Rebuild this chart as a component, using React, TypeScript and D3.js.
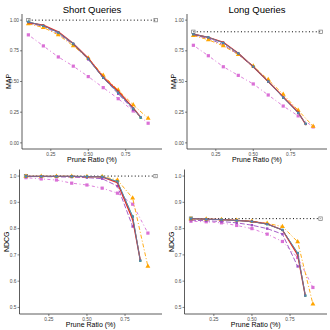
import * as d3 from "d3";

// prune ratios used by each method
const PRUNE_MAIN = [0.1, 0.2, 0.3, 0.4, 0.5, 0.6, 0.7, 0.8, 0.85];
const PRUNE_FULL = [0.1, 0.2, 0.3, 0.4, 0.5, 0.6, 0.7, 0.8, 0.9];
const PRUNE_PURPLE = [0.1, 0.2, 0.3, 0.4, 0.5, 0.6, 0.7, 0.8];
const PRUNE_BASE = [0.1, 0.95];

// MAP, short queries
const mapShortRed = [0.98, 0.96, 0.905, 0.81, 0.69, 0.535, 0.42, 0.285, 0.21];
const mapShortBlue = [0.985, 0.955, 0.9, 0.81, 0.685, 0.53, 0.41, 0.28, 0.21];
const mapShortGreen = [0.985, 0.955, 0.9, 0.805, 0.685, 0.53, 0.41, 0.28, 0.205];
const mapShortOrange = [0.97, 0.94, 0.88, 0.79, 0.69, 0.55, 0.43, 0.31, 0.2];
const mapShortPurple = [0.975, 0.95, 0.89, 0.8, 0.68, 0.53, 0.4, 0.27];
const mapShortOrchid = [0.88, 0.79, 0.7, 0.625, 0.54, 0.45, 0.36, 0.26, 0.16];
const mapShortBase = [1.0, 1.0];

// MAP, long queries
const mapLongRed = [0.885, 0.86, 0.82, 0.73, 0.62, 0.5, 0.375, 0.25, 0.15];
const mapLongBlue = [0.885, 0.86, 0.815, 0.73, 0.62, 0.5, 0.37, 0.245, 0.155];
const mapLongGreen = [0.885, 0.86, 0.815, 0.73, 0.62, 0.5, 0.37, 0.245, 0.155];
const mapLongOrange = [0.875, 0.84, 0.79, 0.72, 0.625, 0.515, 0.395, 0.265, 0.135];
const mapLongPurple = [0.88, 0.85, 0.8, 0.72, 0.62, 0.5, 0.37, 0.25];
const mapLongOrchid = [0.795, 0.71, 0.62, 0.55, 0.48, 0.39, 0.3, 0.22, 0.13];
const mapLongBase = [0.905, 0.905];

// NDCG, short queries
const ndcgShortRed = [0.999, 0.999, 0.999, 0.999, 0.998, 0.997, 0.975, 0.835, 0.68];
const ndcgShortBlue = [0.999, 0.999, 0.999, 0.999, 0.998, 0.997, 0.979, 0.846, 0.678];
const ndcgShortGreen = [0.999, 0.999, 0.999, 0.999, 0.998, 0.997, 0.979, 0.846, 0.678];
const ndcgShortOrange = [0.999, 0.999, 0.999, 0.999, 0.998, 0.998, 0.985, 0.916, 0.656];
const ndcgShortPurple = [0.998, 0.998, 0.997, 0.996, 0.994, 0.99, 0.962, 0.808];
const ndcgShortOrchid = [0.994, 0.989, 0.985, 0.973, 0.966, 0.954, 0.935, 0.893, 0.783];
const ndcgShortBase = [1.0, 1.0];

// NDCG, long queries
const ndcgLongRed = [0.838, 0.836, 0.834, 0.831, 0.827, 0.818, 0.795, 0.7, 0.545];
const ndcgLongBlue = [0.838, 0.836, 0.834, 0.831, 0.827, 0.817, 0.795, 0.707, 0.545];
const ndcgLongGreen = [0.838, 0.836, 0.834, 0.831, 0.827, 0.817, 0.795, 0.707, 0.545];
const ndcgLongOrange = [0.837, 0.836, 0.834, 0.832, 0.828, 0.82, 0.808, 0.75, 0.513];
const ndcgLongPurple = [0.832, 0.83, 0.827, 0.822, 0.813, 0.8, 0.779, 0.656];
const ndcgLongOrchid = [0.828, 0.826, 0.822, 0.812, 0.8, 0.779, 0.751, 0.69, 0.576];
const ndcgLongBase = [0.838, 0.838];

const X_TICKS = [0.25, 0.5, 0.75];
const MAP_TICKS = [0, 0.25, 0.5, 0.75, 1.0];
const NDCG_TICKS = [0.5, 0.6, 0.7, 0.8, 0.9, 1.0];

const FONT = "Liberation Sans, Arial, sans-serif";

type Style = { color: string; dash: string; shape: string; width: number; size: number };

const STYLES: Record<string, Style> = {
  base: { color: "#000", dash: "1,2.4", shape: "openSquare", width: 1, size: 3.4 },
  orchid: { color: "#DA70D6", dash: "1,2.5,3,2.5", shape: "square", width: 0.9, size: 3.2 },
  purple: { color: "#9B4DC0", dash: "5,2", shape: "square", width: 0.9, size: 2.4 },
  orange: { color: "#FFA500", dash: "4,2,1,2", shape: "triangle", width: 0.9, size: 3.4 },
  green: { color: "#2E9E6E", dash: "", shape: "square", width: 0.8, size: 2.4 },
  red: { color: "#E8281E", dash: "", shape: "circle", width: 1.3, size: 1.8 },
  blue: { color: "#4A86BA", dash: "", shape: "square", width: 0.8, size: 2 },
};

type SeriesData = { key: string; xs: number[]; ys: number[] };

const panels = [
  {
    title: "Short Queries", yLabel: "MAP", yDomain: [-0.05, 1.05], yTicks: MAP_TICKS, fmt: ".2f",
    left: 22, right: 162, top: 14, bottom: 149,
    series: [
      { key: "base", xs: PRUNE_BASE, ys: mapShortBase },
      { key: "orchid", xs: PRUNE_FULL, ys: mapShortOrchid },
      { key: "purple", xs: PRUNE_PURPLE, ys: mapShortPurple },
      { key: "orange", xs: PRUNE_FULL, ys: mapShortOrange },
      { key: "green", xs: PRUNE_MAIN, ys: mapShortGreen },
      { key: "red", xs: PRUNE_MAIN, ys: mapShortRed },
      { key: "blue", xs: PRUNE_MAIN, ys: mapShortBlue },
    ],
  },
  {
    title: "Long Queries", yLabel: "MAP", yDomain: [-0.05, 1.05], yTicks: MAP_TICKS, fmt: ".2f",
    left: 187, right: 327, top: 14, bottom: 149,
    series: [
      { key: "base", xs: PRUNE_BASE, ys: mapLongBase },
      { key: "orchid", xs: PRUNE_FULL, ys: mapLongOrchid },
      { key: "purple", xs: PRUNE_PURPLE, ys: mapLongPurple },
      { key: "orange", xs: PRUNE_FULL, ys: mapLongOrange },
      { key: "green", xs: PRUNE_MAIN, ys: mapLongGreen },
      { key: "red", xs: PRUNE_MAIN, ys: mapLongRed },
      { key: "blue", xs: PRUNE_MAIN, ys: mapLongBlue },
    ],
  },
  {
    title: "", yLabel: "NDCG", yDomain: [0.475, 1.025], yTicks: NDCG_TICKS, fmt: ".1f",
    left: 19.5, right: 162, top: 169.5, bottom: 314,
    series: [
      { key: "base", xs: PRUNE_BASE, ys: ndcgShortBase },
      { key: "orchid", xs: PRUNE_FULL, ys: ndcgShortOrchid },
      { key: "purple", xs: PRUNE_PURPLE, ys: ndcgShortPurple },
      { key: "orange", xs: PRUNE_FULL, ys: ndcgShortOrange },
      { key: "green", xs: PRUNE_MAIN, ys: ndcgShortGreen },
      { key: "red", xs: PRUNE_MAIN, ys: ndcgShortRed },
      { key: "blue", xs: PRUNE_MAIN, ys: ndcgShortBlue },
    ],
  },
  {
    title: "", yLabel: "NDCG", yDomain: [0.475, 1.025], yTicks: NDCG_TICKS, fmt: ".1f",
    left: 184.5, right: 327, top: 169.5, bottom: 314,
    series: [
      { key: "base", xs: PRUNE_BASE, ys: ndcgLongBase },
      { key: "orchid", xs: PRUNE_FULL, ys: ndcgLongOrchid },
      { key: "purple", xs: PRUNE_PURPLE, ys: ndcgLongPurple },
      { key: "orange", xs: PRUNE_FULL, ys: ndcgLongOrange },
      { key: "green", xs: PRUNE_MAIN, ys: ndcgLongGreen },
      { key: "red", xs: PRUNE_MAIN, ys: ndcgLongRed },
      { key: "blue", xs: PRUNE_MAIN, ys: ndcgLongBlue },
    ],
  },
];

function Marker({ x, y, st }: { x: number; y: number; st: Style }) {
  const s = st.size;
  if (st.shape === "circle") return <circle cx={x} cy={y} r={s / 2} fill={st.color} />;
  if (st.shape === "triangle") {
    const path = d3.symbol(d3.symbolTriangle, s * s * 0.9)();
    return <path d={path || ""} transform={`translate(${x},${y})`} fill={st.color} />;
  }
  if (st.shape === "openSquare")
    return <rect x={x - s / 2} y={y - s / 2} width={s} height={s} fill="none" stroke="#777" strokeWidth={0.7} />;
  return <rect x={x - s / 2} y={y - s / 2} width={s} height={s} fill={st.color} />;
}

function Panel({ p }: { p: (typeof panels)[number] }) {
  const x = d3.scaleLinear().domain([0.0575, 0.9925]).range([p.left, p.right]);
  const y = d3.scaleLinear().domain(p.yDomain).range([p.bottom, p.top]);
  const fmt = d3.format(p.fmt);
  const line = d3
    .line<[number, number]>()
    .x((d) => x(d[0]))
    .y((d) => y(d[1]));
  const cx = (p.left + p.right) / 2;
  const cy = (p.top + p.bottom) / 2;
  return (
    <g>
      {p.title && (
        <text x={cx} y={13} textAnchor="middle" fontSize={9.5} fontFamily={FONT} fill="#000">
          {p.title}
        </text>
      )}
      {/* axes */}
      <line x1={p.left} x2={p.left} y1={p.top} y2={p.bottom} stroke="#333" strokeWidth={0.8} />
      <line x1={p.left} x2={p.right} y1={p.bottom} y2={p.bottom} stroke="#333" strokeWidth={0.8} />
      {p.yTicks.map((t) => (
        <g key={"y" + t}>
          <line x1={p.left - 2} x2={p.left} y1={y(t)} y2={y(t)} stroke="#333" strokeWidth={0.6} />
          <text x={p.left - 3} y={y(t)} dy="0.35em" textAnchor="end" fontSize={4.8} fontFamily={FONT} fill="#4d4d4d">
            {fmt(t)}
          </text>
        </g>
      ))}
      {X_TICKS.map((t) => (
        <g key={"x" + t}>
          <line x1={x(t)} x2={x(t)} y1={p.bottom} y2={p.bottom + 2} stroke="#333" strokeWidth={0.6} />
          <text x={x(t)} y={p.bottom + 7} textAnchor="middle" fontSize={4.8} fontFamily={FONT} fill="#4d4d4d">
            {d3.format(".2f")(t)}
          </text>
        </g>
      ))}
      <text x={cx} y={p.bottom + 13} textAnchor="middle" fontSize={7} fontFamily={FONT} fill="#000">
        Prune Ratio (%)
      </text>
      <text
        transform={`translate(${p.left - 11},${cy}) rotate(-90)`}
        textAnchor="middle"
        fontSize={7}
        fontFamily={FONT}
        fill="#000"
      >
        {p.yLabel}
      </text>
      {/* series */}
      {p.series.map((s: SeriesData) => {
        const st = STYLES[s.key];
        const pts = s.xs.map((v, i) => [v, s.ys[i]] as [number, number]);
        return (
          <g key={s.key}>
            <path
              d={line(pts) || ""}
              fill="none"
              stroke={st.color}
              strokeWidth={st.width}
              strokeDasharray={st.dash || undefined}
            />
            {pts.map((d, i) => (
              <Marker key={i} x={x(d[0])} y={y(d[1])} st={st} />
            ))}
          </g>
        );
      })}
    </g>
  );
}

export default function App() {
  return (
    <svg
      width={330}
      height={330}
      style={{ position: "absolute", left: 0, top: 0, background: "#fff" }}
    >
      <rect width={330} height={330} fill="#fff" />
      {panels.map((p, i) => (
        <Panel key={i} p={p} />
      ))}
    </svg>
  );
}
